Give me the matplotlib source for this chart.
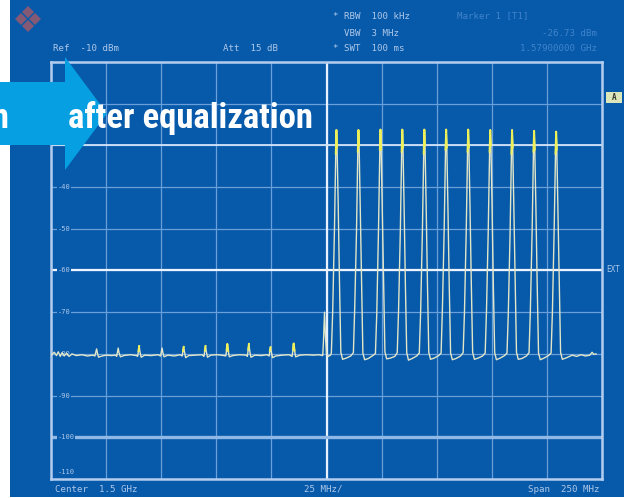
import numpy as np
import matplotlib
matplotlib.use("Agg")
import matplotlib.pyplot as plt
from matplotlib.patches import Rectangle, Polygon
from matplotlib import transforms
from matplotlib import font_manager

# ---------------- data ----------------
center_mhz = 1500.0
span_mhz = 250.0
ref_level_dbm = -10.0
db_per_div = 10.0
level_labels = [-40, -50, -60, -70, -80, -90, -100, -110]

# trace left of centre (before the equalized band): noise floor + 10 small carriers
left_trace_mhz = [
    1375.3, 1376.5, 1377.5, 1378.3, 1379.2, 1380.0, 1381.0, 1382.0, 1383.2, 1384.5,
    1386.5, 1389.0, 1391.5, 1394.0, 1394.9, 1395.3, 1395.7, 1396.1, 1396.6, 1397.5,
    1400.0, 1402.5, 1404.3, 1404.8, 1405.2, 1405.5, 1405.9, 1406.5, 1408.0, 1411.0,
    1413.8, 1414.3, 1414.7, 1415.0, 1415.4, 1415.9, 1417.5, 1420.5, 1423.5, 1424.7,
    1425.1, 1425.4, 1425.8, 1426.3, 1428.0, 1431.0, 1433.5, 1434.5, 1434.9, 1435.2,
    1435.6, 1436.1, 1437.5, 1440.5, 1443.5, 1444.4, 1444.8, 1445.1, 1445.5, 1446.0,
    1447.5, 1450.5, 1453.5, 1454.3, 1454.7, 1455.0, 1455.4, 1455.9, 1457.5, 1460.5,
    1463.5, 1464.1, 1464.5, 1464.8, 1465.2, 1465.7, 1467.5, 1470.5, 1473.0, 1474.0,
    1474.3, 1474.6, 1475.0, 1475.5, 1477.0, 1480.0, 1483.0, 1484.4, 1484.8, 1485.1,
    1485.5, 1486.0, 1488.0, 1491.0, 1494.0, 1496.5, 1498.3, 1498.7, 1499.1, 1499.5,
    1500.0, 1500.8, 1501.8,
]
left_trace_dbm = [
    -80.2, -79.6, -80.4, -79.5, -80.6, -79.7, -80.5, -79.8, -80.6, -80.0,
    -80.4, -80.2, -80.5, -80.3, -80.5, -79.6, -78.8, -79.9, -80.8, -80.6,
    -80.3, -80.4, -80.3, -80.6, -79.5, -78.6, -79.8, -80.7, -80.4, -80.2,
    -80.4, -80.6, -79.3, -78.1, -79.6, -80.8, -80.3, -80.4, -80.2, -80.5,
    -79.4, -78.6, -79.8, -80.7, -80.3, -80.5, -80.2, -80.5, -79.3, -78.3,
    -79.6, -80.9, -80.4, -80.3, -80.2, -80.6, -79.2, -78.1, -79.5, -80.8,
    -80.3, -80.2, -80.4, -80.5, -79.0, -77.6, -79.3, -80.7, -80.4, -80.2,
    -80.3, -80.6, -79.0, -77.6, -79.4, -80.8, -80.3, -80.4, -80.2, -80.5,
    -79.2, -78.4, -79.6, -80.9, -80.5, -80.3, -80.2, -80.6, -78.9, -77.5,
    -79.2, -80.7, -80.3, -80.2, -80.3, -80.2, -80.4, -76.0, -70.0, -75.5,
    -80.0, -80.6, -80.3,
]

# trace right of centre (after equalization): 11 carriers at a flat level
right_trace_mhz = [
    1502.2, 1502.8, 1503.6, 1504.2, 1504.5, 1504.8, 1505.3, 1505.9, 1506.5, 1507.3, 1509.0, 1511.0,
    1512.2, 1512.8, 1513.6, 1514.2, 1514.5, 1514.8, 1515.3, 1515.9, 1516.5, 1517.3, 1519.0, 1521.0,
    1522.2, 1522.8, 1523.6, 1524.2, 1524.5, 1524.8, 1525.3, 1525.9, 1526.5, 1527.3, 1529.0, 1531.0,
    1532.1, 1532.7, 1533.5, 1534.1, 1534.4, 1534.7, 1535.2, 1535.8, 1536.4, 1537.2, 1538.9, 1540.9,
    1542.1, 1542.7, 1543.5, 1544.1, 1544.4, 1544.7, 1545.2, 1545.8, 1546.4, 1547.2, 1548.9, 1550.9,
    1552.0, 1552.6, 1553.4, 1554.0, 1554.3, 1554.6, 1555.1, 1555.7, 1556.3, 1557.1, 1558.8, 1560.8,
    1562.0, 1562.6, 1563.4, 1564.0, 1564.3, 1564.6, 1565.1, 1565.7, 1566.3, 1567.1, 1568.8, 1570.8,
    1572.0, 1572.6, 1573.4, 1574.0, 1574.3, 1574.6, 1575.1, 1575.7, 1576.3, 1577.1, 1578.8, 1580.8,
    1581.9, 1582.5, 1583.3, 1583.9, 1584.2, 1584.5, 1585.0, 1585.6, 1586.2, 1587.0, 1588.7, 1590.7,
    1591.9, 1592.5, 1593.3, 1593.9, 1594.2, 1594.5, 1595.0, 1595.6, 1596.2, 1597.0, 1598.7, 1600.7,
    1601.9, 1602.5, 1603.3, 1603.9, 1604.2, 1604.5, 1605.0, 1605.6, 1606.2, 1607.0,
    1609.0, 1611.5, 1613.5, 1615.5, 1617.5, 1619.5, 1620.5, 1621.2, 1622.3,
]
right_trace_dbm = [
    -79.8, -70.0, -50.5, -32.0, -26.3, -30.5, -44.0, -63.0, -79.6, -81.3, -81.0, -80.5,
    -79.7, -69.0, -51.0, -31.5, -26.3, -30.0, -45.0, -64.0, -79.8, -81.4, -81.1, -80.4,
    -79.9, -70.5, -50.0, -31.0, -26.2, -31.0, -45.5, -62.0, -79.5, -81.2, -81.0, -80.6,
    -79.7, -69.5, -50.5, -31.5, -26.2, -30.5, -44.5, -63.5, -79.7, -81.5, -81.1, -80.5,
    -79.8, -70.0, -51.0, -32.0, -26.2, -30.0, -44.0, -63.0, -79.6, -81.3, -81.0, -80.4,
    -79.8, -69.0, -50.0, -31.0, -26.2, -30.5, -45.0, -64.0, -79.8, -81.4, -81.1, -80.5,
    -79.7, -70.0, -50.5, -31.5, -26.2, -30.5, -44.5, -63.0, -79.6, -81.3, -81.0, -80.5,
    -79.8, -69.5, -50.0, -31.5, -26.3, -30.0, -44.0, -63.5, -79.7, -81.4, -81.0, -80.4,
    -79.8, -70.0, -51.0, -32.0, -26.3, -30.5, -45.0, -63.0, -79.6, -81.3, -81.1, -80.5,
    -79.7, -69.5, -50.5, -31.5, -26.5, -31.0, -44.5, -63.5, -79.8, -81.4, -81.0, -80.4,
    -79.8, -70.0, -50.0, -32.0, -26.7, -31.0, -45.0, -63.0, -79.6, -81.3,
    -80.9, -80.3, -80.6, -80.2, -80.5, -80.3, -79.6, -80.1, -80.0,
]

header_left = ["Ref  -10 dBm", "Att  15 dB"]
header_mid = ["* RBW  100 kHz", "  VBW  3 MHz", "* SWT  100 ms"]
header_right = ["Marker 1 [T1]", "-26.73 dBm", "1.57900000 GHz"]
footer = ["Center  1.5 GHz", "25 MHz/", "Span  250 MHz"]

# ---------------- style ----------------
W, H = 624, 498
BLUE = "#0759a9"
GRID = "#6aa0da"
FRAME = "#b4cdef"
TXT = "#aec8ea"
FAINT = "#3f84cc"
TRACE = "#e2e6c8"
YELLOW = "#eef05a"
ARROW = "#06a0e2"

# pick a condensed bold face for the banner text if one is installed
installed = {f.name for f in font_manager.fontManager.ttflist}
banner_family = None
for cand in ["Roboto Condensed", "Liberation Sans Narrow", "DejaVu Sans Condensed",
             "Open Sans Condensed", "Noto Sans Condensed"]:
    if cand in installed:
        banner_family = cand
        break
if banner_family is None:
    banner_family = "Roboto" if "Roboto" in installed else "Liberation Sans"
banner_stretch = "condensed"

fig = plt.figure(figsize=(W / 100, H / 100), dpi=100)
fig.patch.set_facecolor("white")

bg = fig.add_axes([0, 0, 1, 1], zorder=0)
bg.set_xlim(0, W)
bg.set_ylim(H, 0)
bg.axis("off")
bg.add_patch(Rectangle((10, 0), W - 10, 497, color=BLUE, lw=0))

# main spectrum axes
x0, x1, y0, y1 = 51, 602, 62, 479
ax = fig.add_axes([x0 / W, (H - y1) / H, (x1 - x0) / W, (y1 - y0) / H], zorder=1)
ax.set_facecolor("none")
fmin, fmax = center_mhz - span_mhz / 2, center_mhz + span_mhz / 2
ymin, ymax = ref_level_dbm - 10 * db_per_div, ref_level_dbm
ax.set_xlim(fmin, fmax)
ax.set_ylim(ymin, ymax)
ax.set_xticks(np.linspace(fmin, fmax, 11))
ax.set_yticks(np.arange(ymin, ymax + 1, db_per_div))
ax.tick_params(length=0, labelbottom=False, labelleft=False)
ax.grid(True, color=GRID, lw=0.9)
for s in ax.spines.values():
    s.set_color(FRAME)
    s.set_linewidth(1.8)
ax.axvline(center_mhz, color="#e8f1ff", lw=1.6, zorder=2)
ax.axhline(-60, color="#eef4ff", lw=1.6, zorder=2)
ax.axhline(-30, color="#d2e3f8", lw=1.3, zorder=2)
ax.axhline(-100, color="#90b8e6", lw=2.4, zorder=2)

freq = np.array(left_trace_mhz + right_trace_mhz)
lvl = np.array(left_trace_dbm + right_trace_dbm)
ax.plot(freq, lvl, color=TRACE, lw=1.0, zorder=3)
hi = np.ma.masked_where(~(((freq > 1500) & (lvl > -36)) | ((freq < 1495) & (lvl > -79.4))), lvl)
ax.plot(freq, hi, color=YELLOW, lw=1.4, zorder=4)

blend = transforms.blended_transform_factory(ax.transAxes, ax.transData)
for lv in level_labels:
    if lv == level_labels[-1]:
        ax.text(0.012, lv + 1.0, f"{lv}", transform=blend, ha="left", va="bottom",
                fontsize=5, color=TXT, family="DejaVu Sans Mono", zorder=2.5)
    else:
        ax.text(0.012, lv, f"{lv}", transform=blend, ha="left", va="center",
                fontsize=5, color=TXT, family="DejaVu Sans Mono", zorder=2.5,
                bbox=dict(facecolor=BLUE, edgecolor="none", pad=0.6))

# overlay: texts, logo, arrow
ov = fig.add_axes([0, 0, 1, 1], zorder=5)
ov.set_xlim(0, W)
ov.set_ylim(H, 0)
ov.axis("off")
ov.patch.set_alpha(0)

mono = dict(family="DejaVu Sans Mono", fontsize=6.6, va="center")
ov.text(53, 48, header_left[0], color=TXT, ha="left", **mono)
ov.text(223, 48, header_left[1], color=TXT, ha="left", **mono)
for yy, t in zip([16, 33, 48], header_mid):
    ov.text(333, yy, t, color=TXT, ha="left", **mono)
ov.text(457, 16, header_right[0], color=FAINT, ha="left", **mono)
ov.text(597, 33, header_right[1], color=FAINT, ha="right", **mono)
ov.text(597, 48, header_right[2], color=FAINT, ha="right", **mono)
ov.text(55, 489, footer[0], color=TXT, ha="left", **mono)
ov.text(304, 489, footer[1], color=TXT, ha="left", **mono)
ov.text(600, 489, footer[2], color=TXT, ha="right", **mono)
ov.text(606, 269, "EXT", color=TXT, ha="left", family="DejaVu Sans Mono", fontsize=5.5, va="center")
ov.add_patch(Rectangle((606, 92), 16, 11, color="#dde6b8", lw=0))
ov.text(614, 97.5, "A", color="#333333", ha="center", va="center", fontsize=5.5,
        family="DejaVu Sans Mono", fontweight="bold")

# R&S logo (four small diamonds)
for dx, dy in [(-7, 0), (7, 0), (0, -7), (0, 7)]:
    cx, cy = 28 + dx, 19 + dy
    ov.add_patch(Polygon([(cx - 6, cy), (cx, cy - 6), (cx + 6, cy), (cx, cy + 6)],
                         closed=True, color="#9a5a6c", alpha=0.85, lw=0))

# arrow
ov.add_patch(Polygon([(0, 82), (65, 82), (65, 57), (107, 113.5), (65, 170), (65, 145), (0, 145)],
                     closed=True, color=ARROW, lw=0))
tf = [banner_family, "DejaVu Sans"]
t_before = ov.text(9, 128, "before equalization", color="white", ha="right", va="baseline",
                   fontsize=24, fontweight="bold", family=tf, fontstretch=banner_stretch)
t_after = ov.text(68, 128, "after equalization", color="white", ha="left", va="baseline",
                  fontsize=24, fontweight="bold", family=tf, fontstretch=banner_stretch)

# fit the banner text width to the reference (about 245 px) by adjusting size
fig.canvas.draw()
r = fig.canvas.get_renderer()
wpx = t_after.get_window_extent(renderer=r).width
if wpx > 0:
    new_size = max(14.0, min(26.0, 24 * 245.0 / wpx))
    t_after.set_fontsize(new_size)
    t_before.set_fontsize(new_size)

fig.savefig("out.png", dpi=100, facecolor="white")
